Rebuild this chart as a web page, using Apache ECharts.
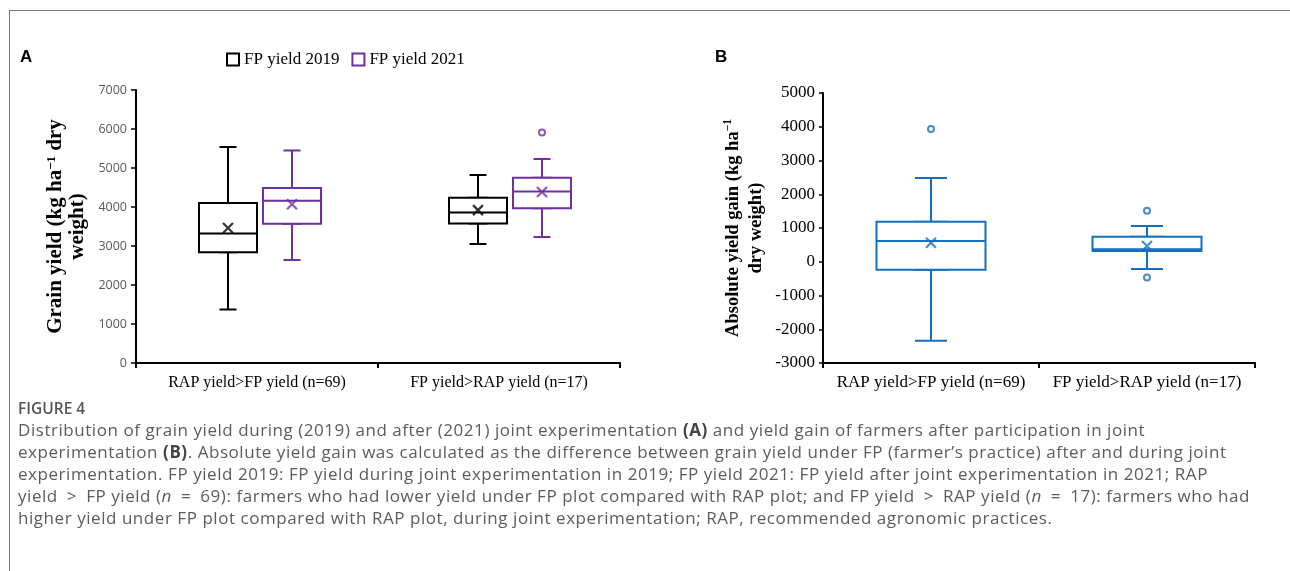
<!DOCTYPE html>
<html>
<head>
<meta charset="utf-8">
<script src="https://cdn.jsdelivr.net/npm/echarts@6/dist/echarts.min.js"></script>
<style>
  html, body { margin: 0; padding: 0; background: #fff; }
  #wrap { position: relative; width: 1290px; height: 571px; overflow: hidden; }
  #chart { position: absolute; left: 0; top: 0; width: 1290px; height: 571px; }
  #frame { position: absolute; left: 9px; top: 10px; width: 1290px; height: 600px;
           border-left: 1.5px solid #7a7a7a; border-top: 1.5px solid #7a7a7a; pointer-events: none; }
  #caption { position: absolute; left: 18px; top: 397px; width: 1270px;
             font-family: "Open Sans", sans-serif; font-size: 17px; letter-spacing: 0.55px; line-height: 22px;
             color: #5c5c5c; white-space: nowrap; }
  #caption .fig { font-size: 15.5px; letter-spacing: 0px; color: #555; font-weight: 600; }
  #caption b { color: #444; }
</style>
</head>
<body>
<div id="wrap">
  <div id="chart"></div>
  <div id="frame"></div>
  <div id="caption">
    <div class="fig">FIGURE 4</div>
    <div>Distribution of grain yield during (2019) and after (2021) joint experimentation <b>(A)</b> and yield gain of farmers after participation in joint</div>
    <div>experimentation <b>(B)</b>. Absolute yield gain was calculated as the difference between grain yield under FP (farmer’s practice) after and during joint</div>
    <div>experimentation. FP yield 2019: FP yield during joint experimentation in 2019; FP yield 2021: FP yield after joint experimentation in 2021; RAP</div>
    <div>yield&ensp;&gt;&ensp;FP yield (<i>n</i>&ensp;=&ensp;69): farmers who had lower yield under FP plot compared with RAP plot; and FP yield&ensp;&gt;&ensp;RAP yield (<i>n</i>&ensp;=&ensp;17): farmers who had</div>
    <div>higher yield under FP plot compared with RAP plot, during joint experimentation; RAP, recommended agronomic practices.</div>
  </div>
</div>
<script>
// ---------- data ----------
const categories = ['RAP yield>FP yield (n=69)', 'FP yield>RAP yield (n=17)'];
const seriesNames = ['FP yield 2019', 'FP yield 2021'];
// box data: [min, Q1, median, Q3, max]
const fp2019Box = [[1370, 2840, 3320, 4100, 5540], [3050, 3580, 3860, 4240, 4820]];
const fp2019Mean = [3460, 3920];
const fp2021Box = [[2640, 3570, 4160, 4490, 5450], [3230, 3970, 4400, 4750, 5230]];
const fp2021Mean = [4070, 4385];
const fp2021Outliers = [[1, 5910]];
const gainBox = [[-2340, -240, 614, 1187, 2484], [-217, 318, 368, 742, 1059]];
const gainMean = [564, 466];
const gainOutliers = [[0, 3935], [1, 1513], [1, -463]];
const yTicksA = { min: 0, max: 7000, interval: 1000 };
const yTicksB = { min: -3000, max: 5000, interval: 1000 };

// ---------- styles ----------
const BLACK = '#000000', PURPLE = '#7030A0', BLUE = '#1570C0';
const SERIF = '"Liberation Serif", "Times New Roman", serif';
const X_PATH = 'path://M0,0L10,10M0,10L10,0';
const plain = v => String(v);

const boxOnly = d => d.map(v => [v[1], v[1], v[2], v[3], v[3]]);
const pts = arr => arr.map((v, i) => [i, v]);

function hiddenX(gridIndex) {
  return { type: 'category', data: categories, gridIndex: gridIndex, show: false };
}
function hiddenY(gridIndex, t) {
  return { type: 'value', gridIndex: gridIndex, show: false, min: t.min, max: t.max, interval: t.interval, splitLine: { show: false } };
}
function boxSeries(name, xi, yi, data, color, width, z) {
  return {
    name: name, type: 'boxplot', xAxisIndex: xi, yAxisIndex: yi, data: data,
    boxWidth: [width, width], z: z, silent: true,
    itemStyle: { color: '#ffffff', borderColor: color, borderWidth: 2 },
    emphasis: { disabled: true }
  };
}
function meanSeries(name, xi, yi, data, color) {
  return {
    name: name, type: 'scatter', xAxisIndex: xi, yAxisIndex: yi, data: data,
    symbol: X_PATH, symbolSize: 10, z: 10, silent: true,
    itemStyle: { color: 'rgba(0,0,0,0)', borderColor: color, borderWidth: 2.2 }
  };
}
function outlierSeries(name, xi, yi, data, color) {
  return {
    name: name, type: 'scatter', xAxisIndex: xi, yAxisIndex: yi, data: data,
    symbol: 'circle', symbolSize: 6, z: 10, silent: true,
    itemStyle: { color: '#ffffff', borderColor: color, borderWidth: 2 }
  };
}

const chart = echarts.init(document.getElementById('chart'), null, { renderer: 'canvas' });

const option = {
  animation: false,
  backgroundColor: 'transparent',
  grid: [
    { left: 136, top: 90, width: 484, height: 273 },   // A visible
    { left: 103, top: 90, width: 500, height: 273 },   // A FP 2019
    { left: 167, top: 90, width: 500, height: 273 },   // A FP 2021
    { left: 823, top: 93, width: 432, height: 270 }    // B
  ],
  legend: {
    left: 221, top: 46, itemWidth: 12, itemHeight: 12, itemGap: 12,
    selectedMode: false,
    textStyle: { fontFamily: SERIF, fontSize: 17, color: '#000' },
    data: [
      { name: seriesNames[0], icon: 'rect', itemStyle: { color: '#fff', borderColor: BLACK, borderWidth: 2 } },
      { name: seriesNames[1], icon: 'rect', itemStyle: { color: '#fff', borderColor: PURPLE, borderWidth: 2 } }
    ]
  },
  xAxis: [
    { type: 'category', data: categories, gridIndex: 0,
      axisLine: { onZero: false, lineStyle: { color: '#000', width: 2 } },
      axisTick: { show: true, length: 5, interval: 0, lineStyle: { color: '#000', width: 2 } },
      axisLabel: { interval: 0, margin: 12, fontFamily: SERIF, fontSize: 16, color: '#000' } },
    hiddenX(1), hiddenX(1), hiddenX(2), hiddenX(2),
    { type: 'category', data: categories, gridIndex: 3,
      axisLine: { onZero: false, lineStyle: { color: '#000', width: 2 } },
      axisTick: { show: true, length: 5, interval: 0, lineStyle: { color: '#000', width: 2 } },
      axisLabel: { interval: 0, margin: 11, fontFamily: SERIF, fontSize: 17, color: '#000' } },
    hiddenX(3)
  ],
  yAxis: [
    { type: 'value', gridIndex: 0, min: yTicksA.min, max: yTicksA.max, interval: yTicksA.interval,
      splitLine: { show: false },
      axisLine: { show: true, lineStyle: { color: '#000', width: 2 } },
      axisTick: { show: true, length: 5, lineStyle: { color: '#000', width: 1.5 } },
      axisLabel: { margin: 9, formatter: plain, fontFamily: '"Open Sans", sans-serif', fontSize: 12.5, color: '#595959' },
      name: '{t|Grain yield (kg ha}{s|−1}{t| dry}\n{t|weight)}',
      nameLocation: 'middle', nameRotate: 90, nameGap: 47,
      nameTextStyle: {
        rich: {
          t: { fontFamily: SERIF, fontWeight: 'bold', fontSize: 21, color: '#000', lineHeight: 22 },
          s: { fontFamily: SERIF, fontWeight: 'bold', fontSize: 13, color: '#000', lineHeight: 22, verticalAlign: 'top', padding: [0, 0, 9, 0] }
        }
      } },
    hiddenY(1, yTicksA), hiddenY(2, yTicksA),
    { type: 'value', gridIndex: 3, min: yTicksB.min, max: yTicksB.max, interval: yTicksB.interval,
      splitLine: { show: false },
      axisLine: { show: true, onZero: false, lineStyle: { color: '#000', width: 2 } },
      axisTick: { show: true, length: 4, lineStyle: { color: '#000', width: 1.5 } },
      axisLabel: { margin: 8, formatter: plain, fontFamily: SERIF, fontSize: 17, color: '#000' },
      name: '{t|Absolute yield gain (kg ha}{s|−1}\n{t|dry weight)}',
      nameLocation: 'middle', nameRotate: 90, nameGap: 55,
      nameTextStyle: {
        rich: {
          t: { fontFamily: SERIF, fontWeight: 'bold', fontSize: 18.5, color: '#000', lineHeight: 23 },
          s: { fontFamily: SERIF, fontWeight: 'bold', fontSize: 11.5, color: '#000', lineHeight: 23, verticalAlign: 'top', padding: [0, 0, 8, 0] }
        }
      } }
  ],
  graphic: [
    { type: 'text', left: 20, top: 49, style: { text: 'A', font: 'bold 17px "Liberation Sans", Arial, sans-serif', fill: '#000' } },
    { type: 'text', left: 715, top: 49, style: { text: 'B', font: 'bold 17px "Liberation Sans", Arial, sans-serif', fill: '#000' } }
  ],
  series: [
    // Panel A, FP yield 2019
    boxSeries(seriesNames[0], 2, 1, fp2019Box, BLACK, 17, 2),
    boxSeries(seriesNames[0], 1, 1, boxOnly(fp2019Box), BLACK, 58, 3),
    meanSeries(seriesNames[0], 1, 1, pts(fp2019Mean), BLACK),
    // Panel A, FP yield 2021
    boxSeries(seriesNames[1], 4, 2, fp2021Box, PURPLE, 17, 2),
    boxSeries(seriesNames[1], 3, 2, boxOnly(fp2021Box), PURPLE, 58, 3),
    meanSeries(seriesNames[1], 3, 2, pts(fp2021Mean), PURPLE),
    outlierSeries(seriesNames[1], 3, 2, fp2021Outliers, PURPLE),
    // Panel B
    boxSeries('Absolute yield gain', 6, 3, gainBox, BLUE, 32, 2),
    boxSeries('Absolute yield gain', 5, 3, boxOnly(gainBox), BLUE, 109, 3),
    meanSeries('Absolute yield gain', 5, 3, pts(gainMean), BLUE),
    outlierSeries('Absolute yield gain', 5, 3, gainOutliers, BLUE)
  ]
};
chart.setOption(option);
</script>
</body>
</html>
